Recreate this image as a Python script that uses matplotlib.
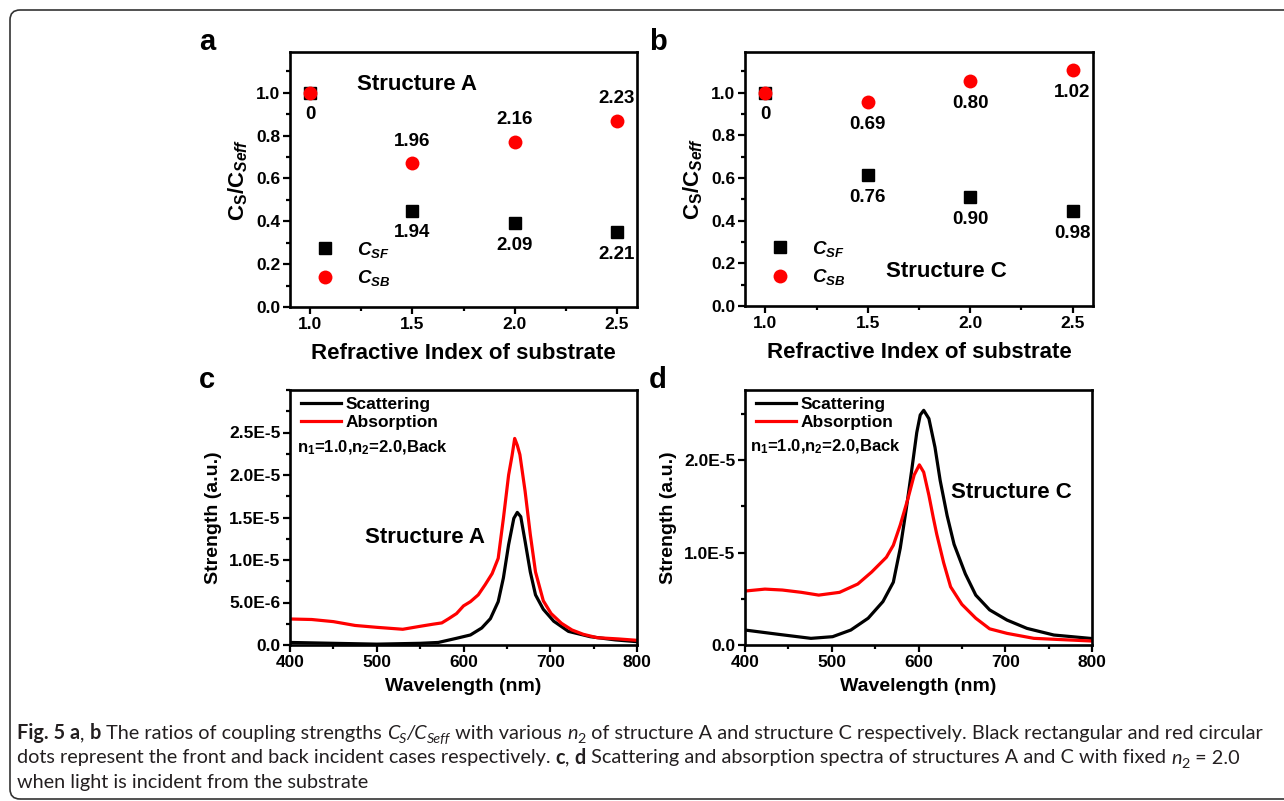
import matplotlib
matplotlib.use('Agg')
import matplotlib.pyplot as plt
from matplotlib.ticker import MultipleLocator, FixedLocator, FixedFormatter
from matplotlib.patches import FancyBboxPatch
from matplotlib.transforms import IdentityTransform

# ---------------- data ----------------
n2 = [1.0, 1.5, 2.0, 2.5]

a_csf = [1.0, 0.450, 0.393, 0.350]
a_csb = [1.0, 0.670, 0.772, 0.870]
a_csf_labels = ["0", "1.94", "2.09", "2.21"]
a_csb_labels = ["", "1.96", "2.16", "2.23"]

b_csf = [1.0, 0.613, 0.510, 0.445]
b_csb = [1.0, 0.956, 1.055, 1.106]
b_csf_labels = ["0", "0.76", "0.90", "0.98"]
b_csb_labels = ["", "0.69", "0.80", "1.02"]

ratio_xticks = [1.0, 1.5, 2.0, 2.5]
ratio_xticklabels = ["1.0", "1.5", "2.0", "2.5"]
ratio_yticks = [0.0, 0.2, 0.4, 0.6, 0.8, 1.0]
ratio_yticklabels = ["0.0", "0.2", "0.4", "0.6", "0.8", "1.0"]

# panel c (structure A), values in units of 1e-6
c_scat_wl = [400, 450, 500, 550, 571, 592, 608, 621, 631, 640, 646, 652, 658,
             662, 666, 671, 677, 683, 692, 704, 721, 746, 775, 800]
c_scat = [0.30, 0.20, 0.10, 0.20, 0.30, 0.79, 1.18, 2.0, 3.1, 5.1, 7.9, 11.8,
          14.9, 15.6, 15.1, 12.2, 8.6, 5.9, 4.2, 2.8, 1.6, 0.98, 0.6, 0.39]
c_abs_wl = [400, 425, 450, 475, 500, 530, 550, 565, 575, 583, 592, 600, 608,
            617, 625, 633, 640, 646, 652, 656, 659, 662, 665, 671, 677, 683,
            692, 701, 713, 725, 738, 754, 779, 800]
c_abs = [3.06, 3.0, 2.75, 2.3, 2.08, 1.85, 2.2, 2.45, 2.6, 3.1, 3.7, 4.6, 5.1,
         5.9, 7.1, 8.4, 10.2, 14.9, 20.0, 22.3, 24.3, 23.5, 22.4, 18.1, 13.0,
         8.6, 5.2, 3.7, 2.55, 1.77, 1.26, 0.86, 0.71, 0.55]

# panel d (structure C), values in units of 1e-6
d_scat_wl = [400, 439, 476, 501, 522, 542, 559, 571, 579, 586, 592, 598, 602,
             606, 612, 619, 625, 633, 641, 654, 666, 682, 702, 725, 756, 800]
d_scat = [1.62, 1.15, 0.72, 0.9, 1.62, 2.9, 4.7, 6.8, 10.5, 14.8, 18.8, 23.0,
          24.9, 25.4, 24.5, 21.4, 17.8, 14.0, 10.9, 7.7, 5.4, 3.8, 2.7, 1.8,
          1.08, 0.7]
d_abs_wl = [400, 423, 443, 465, 485, 509, 530, 546, 563, 571, 579, 588, 595,
            601, 606, 612, 617, 621, 629, 637, 650, 666, 682, 702, 733, 800]
d_abs = [5.84, 6.05, 5.95, 5.7, 5.4, 5.7, 6.6, 7.9, 9.5, 10.8, 13.0, 15.9,
         18.4, 19.5, 18.7, 16.2, 13.8, 12.0, 8.9, 6.3, 4.4, 2.9, 1.75, 1.26,
         0.72, 0.43]

wl_ticks = [400, 500, 600, 700, 800]
wl_ticklabels = ["400", "500", "600", "700", "800"]
c_yticks = [0.0, 5e-6, 1e-5, 1.5e-5, 2e-5, 2.5e-5]
c_yticklabels = ["0.0", "5.0E-6", "1.0E-5", "1.5E-5", "2.0E-5", "2.5E-5"]
d_yticks = [0.0, 1e-5, 2e-5]
d_yticklabels = ["0.0", "1.0E-5", "2.0E-5"]

caption_lines = [
    [("Fig. 5 ", "b"), ("a", "b"), (", ", "n"), ("b", "b"),
     (" The ratios of coupling strengths ", "n"), ("C", "i"), ("S", "isub"),
     ("/C", "i"), ("Seff", "isub"), (" with various ", "n"), ("n", "i"),
     ("2", "sub"),
     (" of structure A and structure C respectively. Black rectangular and red circular", "n")],
    [("dots represent the front and back incident cases respectively. ", "n"),
     ("c", "b"), (", ", "n"), ("d", "b"),
     (" Scattering and absorption spectra of structures A and C with fixed ", "n"),
     ("n", "i"), ("2", "sub"), (" = 2.0", "n")],
    [("when light is incident from the substrate", "n")],
]

# ---------------- style ----------------
plt.rcParams['font.family'] = ['Liberation Sans', 'DejaVu Sans']
plt.rcParams['font.weight'] = 'bold'
plt.rcParams['axes.labelweight'] = 'bold'
plt.rcParams['mathtext.fontset'] = 'custom'
plt.rcParams['mathtext.rm'] = 'Liberation Sans:bold'
plt.rcParams['mathtext.bf'] = 'Liberation Sans:bold'
plt.rcParams['mathtext.it'] = 'Liberation Sans:italic:bold'
plt.rcParams['mathtext.sf'] = 'Liberation Sans:bold'

W, H = 1284, 801
fig = plt.figure(figsize=(W / 100, H / 100), dpi=100)
fig.patch.set_facecolor('white')


def px_axes(l, t, r, b):
    return fig.add_axes([l / W, (H - b) / H, (r - l) / W, (b - t) / H])


def style(ax):
    for s in ax.spines.values():
        s.set_linewidth(1.9)
    ax.tick_params(which='both', direction='out', top=False, right=False,
                   width=1.6, labelsize=12.5, pad=2)
    ax.tick_params(which='major', length=5)
    ax.tick_params(which='minor', length=3)


axa = px_axes(290, 52, 637, 307)
axb = px_axes(745, 52, 1093, 306)
axc = px_axes(290, 390, 637, 645)
axd = px_axes(745, 390, 1092, 645)

# ---- ratio panels ----
for ax, csf, csb, lsf, lsb, above in [
        (axa, a_csf, a_csb, a_csf_labels, a_csb_labels, True),
        (axb, b_csf, b_csb, b_csf_labels, b_csb_labels, False)]:
    style(ax)
    ax.plot(n2, csf, linestyle='none', marker='s', ms=9, color='black',
            label=r'$C_{SF}$')
    ax.plot(n2, csb, linestyle='none', marker='o', ms=10, color='#ff0000',
            markeredgewidth=0, label=r'$C_{SB}$')
    for x, y, lab in zip(n2, csf, lsf):
        if lab:
            ax.annotate(lab, (x, y), xytext=(0, -16), textcoords='offset points',
                        ha='center', va='center', fontsize=13.5)
    for x, y, lab in zip(n2, csb, lsb):
        if lab:
            ax.annotate(lab, (x, y), xytext=(0, 16 if above else -16),
                        textcoords='offset points', ha='center', va='center',
                        fontsize=13.5)
    ax.set_xlim(0.9, 2.6)
    ax.set_ylim(0, 1.19)
    ax.xaxis.set_major_locator(FixedLocator(ratio_xticks))
    ax.xaxis.set_major_formatter(FixedFormatter(ratio_xticklabels))
    ax.xaxis.set_minor_locator(MultipleLocator(0.25))
    ax.yaxis.set_major_locator(FixedLocator(ratio_yticks))
    ax.yaxis.set_major_formatter(FixedFormatter(ratio_yticklabels))
    ax.yaxis.set_minor_locator(MultipleLocator(0.1))
    ax.set_xlabel('Refractive Index of substrate', fontsize=16, labelpad=8)
    ax.set_ylabel(r'$\mathbf{C}_{\mathbf{S}}\mathbf{/C}_{Seff}$', fontsize=16,
                  labelpad=4)
    ax.legend(loc='lower left', bbox_to_anchor=(0.075, 0.074), frameon=False,
              fontsize=13.5, handlelength=1.0, handletextpad=1.2,
              labelspacing=0.45, borderpad=0, borderaxespad=0)

axa.text(0.366, 0.871, 'Structure A', transform=axa.transAxes, ha='center',
         va='center', fontsize=16)
axb.text(0.578, 0.134, 'Structure C', transform=axb.transAxes, ha='center',
         va='center', fontsize=16)

# ---- spectra panels ----
for ax, swl, s, awl, a, yt, ytl, ymax, minor in [
        (axc, c_scat_wl, c_scat, c_abs_wl, c_abs, c_yticks, c_yticklabels, 3.0e-5, 2.5e-6),
        (axd, d_scat_wl, d_scat, d_abs_wl, d_abs, d_yticks, d_yticklabels, 2.76e-5, 5e-6)]:
    style(ax)
    ax.plot(swl, [v * 1e-6 for v in s], color='black', lw=2.3, label='Scattering')
    ax.plot(awl, [v * 1e-6 for v in a], color='#ff0000', lw=2.3, label='Absorption')
    ax.set_xlim(400, 800)
    ax.set_ylim(0, ymax)
    ax.xaxis.set_major_locator(FixedLocator(wl_ticks))
    ax.xaxis.set_major_formatter(FixedFormatter(wl_ticklabels))
    ax.xaxis.set_minor_locator(MultipleLocator(50))
    ax.yaxis.set_major_locator(FixedLocator(yt))
    ax.yaxis.set_major_formatter(FixedFormatter(ytl))
    ax.yaxis.set_minor_locator(MultipleLocator(minor))
    ax.set_xlabel('Wavelength (nm)', fontsize=14, labelpad=6)
    ax.set_ylabel('Strength (a.u.)', fontsize=14, labelpad=5)
    ax.legend(loc='upper left', bbox_to_anchor=(0.012, 1.0), frameon=False,
              fontsize=12.5, handlelength=2.3, handletextpad=0.25,
              labelspacing=0.15, borderpad=0.4, borderaxespad=0)

cond_text = r'n$_1$=1.0,n$_2$=2.0,Back'
axc.text(0.02, 0.773, cond_text, transform=axc.transAxes, ha='left',
         va='center', fontsize=12)
axd.text(0.015, 0.778, cond_text, transform=axd.transAxes, ha='left',
         va='center', fontsize=12)
axc.text(0.389, 0.42, 'Structure A', transform=axc.transAxes, ha='center',
         va='center', fontsize=16)
axd.text(0.769, 0.60, 'Structure C', transform=axd.transAxes, ha='center',
         va='center', fontsize=16)

# panel letters
for lab, (x, y) in zip('abcd', [(207, 42), (658, 42), (207, 380), (658, 380)]):
    fig.text(x / W, 1 - y / H, lab, fontsize=21, fontweight='bold',
             ha='center', va='center')

# frame
frame = FancyBboxPatch((10, 2), 1340, 789, boxstyle='round,pad=0,rounding_size=10',
                       transform=IdentityTransform(), facecolor='none',
                       edgecolor='#333333', linewidth=1.2)
fig.add_artist(frame)

# ---------------- caption ----------------
renderer = fig.canvas.get_renderer()
cap_font = ['Lato', 'DejaVu Sans']
cap_color = '#231f20'


def run_props(kind, size):
    weight = 'bold' if kind == 'b' else 'normal'
    fstyle = 'italic' if kind.startswith('i') else 'normal'
    sub = kind.endswith('sub')
    fs = size * 0.72 if sub else size
    return dict(fontsize=fs, fontweight=weight, fontstyle=fstyle,
                family=cap_font), sub


def adv(txt, props):
    t1 = fig.text(0, 0, '|' + txt + '|', **props)
    t2 = fig.text(0, 0, '||', **props)
    w = t1.get_window_extent(renderer).width - t2.get_window_extent(renderer).width
    t1.remove()
    t2.remove()
    return w


base = 12.0
total = sum(adv(t, run_props(k, base)[0]) for t, k in caption_lines[0])
size = base * 1245.0 / total

for li, runs in enumerate(caption_lines):
    x = 17.0
    ybase = H - (739 + li * 24.5)
    for txt, kind in runs:
        props, sub = run_props(kind, size)
        y = ybase - (size * 0.28 if sub else 0)
        fig.text(x / W, y / H, txt, color=cap_color, va='baseline', ha='left',
                 **props)
        x += adv(txt, props)

fig.savefig('out.png', dpi=100, facecolor='white')
